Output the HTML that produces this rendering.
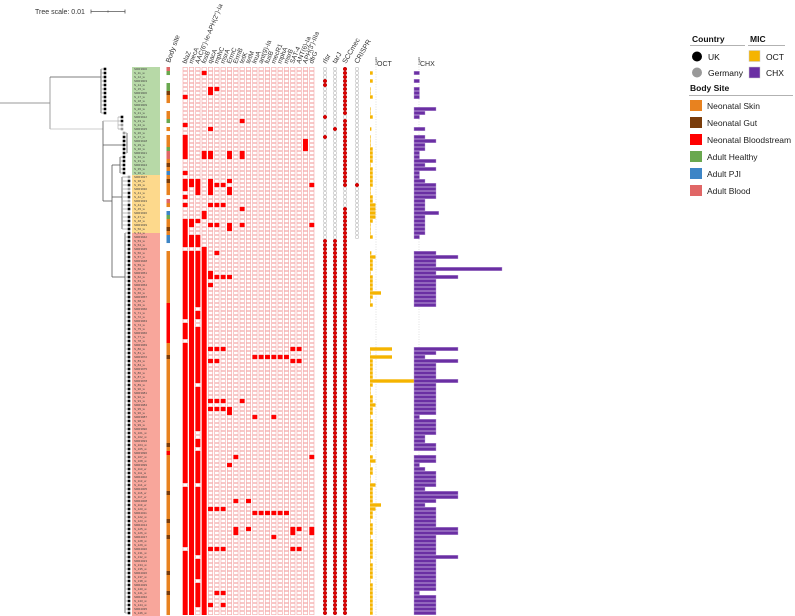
<!DOCTYPE html>
<html><head><meta charset="utf-8"><style>
html,body{margin:0;padding:0;background:#fff;}
svg{display:block;font-family:"Liberation Sans",sans-serif;}
</style></head><body>
<svg id="fig" width="795" height="616" viewBox="0 0 795 616" xmlns="http://www.w3.org/2000/svg">
<g>
<text x="35" y="14" font-size="7" fill="#333">Tree scale: 0.01</text>
<line x1="91" y1="11.5" x2="125" y2="11.5" stroke="#555" stroke-width="0.8"/>
<line x1="91" y1="9.5" x2="91" y2="13.5" stroke="#555" stroke-width="0.8"/>
<line x1="108" y1="10.5" x2="108" y2="12.5" stroke="#555" stroke-width="0.8"/>
<line x1="125" y1="9.5" x2="125" y2="13.5" stroke="#555" stroke-width="0.8"/>
</g>
<g id="tree"></g>
<g id="clades"></g>
<g id="body"></g>
<g id="heat"></g>
<g id="dots"></g>
<g id="bars"></g>
<g>
<text x="692" y="42" font-size="8.5" font-weight="bold" fill="#111">Country</text>
<line x1="690" y1="45.5" x2="745" y2="45.5" stroke="#999" stroke-width="0.8"/>
<text x="750" y="42" font-size="8.5" font-weight="bold" fill="#111">MIC</text>
<line x1="748" y1="45.5" x2="785" y2="45.5" stroke="#999" stroke-width="0.8"/>
<circle cx="697" cy="56.5" r="5" fill="#000"/><text x="708" y="60" font-size="8.5" fill="#111">UK</text>
<circle cx="697" cy="72.5" r="5" fill="#999"/><text x="708" y="76" font-size="8.5" fill="#111">Germany</text>
<rect x="749" y="50.5" width="11" height="11" fill="#f5b400" stroke="#ccc" stroke-width="0.5"/><text x="766" y="60" font-size="8.5" fill="#111">OCT</text>
<rect x="749" y="67" width="11" height="11" fill="#6a2fa3" stroke="#ccc" stroke-width="0.5"/><text x="766" y="76" font-size="8.5" fill="#111">CHX</text>
<text x="690" y="91" font-size="8.5" font-weight="bold" fill="#111">Body Site</text>
<line x1="689" y1="95.5" x2="793" y2="95.5" stroke="#999" stroke-width="0.8"/>
<rect x="690" y="100" width="12" height="11" fill="#e8821f"/><text x="707" y="109" font-size="8.5" fill="#222">Neonatal Skin</text>
<rect x="690" y="117" width="12" height="11" fill="#7a3c0a"/><text x="707" y="126" font-size="8.5" fill="#222">Neonatal Gut</text>
<rect x="690" y="134" width="12" height="11" fill="#ff0000"/><text x="707" y="143" font-size="8.5" fill="#222">Neonatal Bloodstream</text>
<rect x="690" y="151" width="12" height="11" fill="#6aa84f"/><text x="707" y="160" font-size="8.5" fill="#222">Adult Healthy</text>
<rect x="690" y="168" width="12" height="11" fill="#3d85c6"/><text x="707" y="177" font-size="8.5" fill="#222">Adult PJI</text>
<rect x="690" y="185" width="12" height="11" fill="#e06666"/><text x="707" y="194" font-size="8.5" fill="#222">Adult Blood</text>
</g>
</svg>
<script>
const NS="http://www.w3.org/2000/svg";
const geneNames=["blaZ","mecA","AAC(6')-Ie-APH(2'')-Ia","fosB","qacA","mphC","msrA","ErmC","ErmB","tetK","tetM","lnuA","ant(9)-Ia","fusB","mecR1","mphA","msrB","SAT-4","ANT(6)-Ia","APH(3')-IIIa","dfrG"];
const markerNames=["rlsr","tarJ","SCCmec","CRISPR"];
const chxValues=[0,1,0,1,0,1,1,1,0,0, 4,2,1,0,0,2,0,2,4,2, 2,1,1,4,2,4,1,1,2,4, 4,4,4,2,2,2,4.5,2,2,2, 2,2,1,0,0,0,4,8,4,4,
16,4,8,4,4,4,4,4,4,4, 0,0,0,0,0,0,0,0,0,0, 8,4,2,8,4,4,4,4,8,4, 4,4,4,4,4,4,4,1,4,4, 4,4,2,2,4,4,0,4,4,1,
2,4,4,4,4,2,8,8,4,2, 4,4,4,4,4,8,8,4,4,4, 4,4,8,4,4,4,4,4,4,4, 4,1,4,4,4,4,4];
const octValues=[0,.5,0,.5,0,.1,.1,.5,0,0, .1,.1,.5,0,0,.25,0,.1,.1,.1, .5,.5,.5,.5,.1,.5,.5,.5,.5,.5, .1,.1,.5,.5,1,1,1,1,.5,.1, .1,.1,.5,0,0,0,.25,1,.5,.5,
.5,.1,.5,.5,.5,.5,2,.5,.1,.5, 0,0,0,0,0,0,0,0,0,0, 4,.1,4,.5,.5,.5,.5,.5,8,.5, .1,.1,.5,.5,1,.5,.5,.1,.5,.5, .5,.5,.5,.5,.5,.1,0,.5,1,.1,
.5,.5,.1,.1,1,.5,.5,.5,.5,2, 1,.5,.5,.1,.5,.5,.5,.1,.5,.5, .5,.5,.5,.1,.5,.5,.5,.5,.1,.5, .5,.5,.5,.5,.5,.5,.5];
const bodySites=("AH--HHGSS--SSH-S-SSSHAASGSPSGSSS-AS-PHSSGSPP--"+"SSSSSSSSSSSSS"+"BBBBBBBBBB"+"SSSG"+"SSSSSSSSSSSSSSSSSSSSS"+"GSB"+"SSSSSSSSS"+"GSSSSSSGSSSGSSSSSSSSGSSSSGSSSSS").split("");
const siteColors={S:"#e8821f",G:"#7a3c0a",B:"#ff0000",H:"#6aa84f",P:"#3d85c6",A:"#e06666"};
const geneHits=[[1,[3]],[5,[4,5]],[6,[4]],[7,[0]],[13,[9]],[14,[0]],[15,[4]],[17,[0]],[18,[0,19]],[19,[0,19]],[20,[0,19]],[21,[0,3,4,7,9]],[22,[0,3,4,7,9]],[26,[0]],[28,[0,1,2,4,7]],[29,[0,1,2,4,5,6,20]],[30,[0,2,4,7]],[31,[2,4,7]],[32,[0]],[34,[0,4,5,6]],[35,[9]],[36,[3]],[37,[3]],[38,[0,1,2]],[39,[0,1,4,5,7,9,20]],[40,[0,7]],[41,[0]],[42,[0,1,2]],
[46,[5]],[51,[4]],[52,[4,5,6,7]],[54,[4]],[70,[4,5,6,17,18]],[72,[11,12,13,14,15,16]],[73,[4,5,17,18]],[83,[4,5,6,9]],[85,[4,5,6,7]],[86,[7]],[87,[11,14]],[97,[8,20]],[99,[7]],[108,[8,10]],[110,[4,5,6]],[111,[11,12,13,14,15,16]],[115,[8,10,17,18,20]],[116,[8,17,20]],[117,[14]],[120,[4,5,6,17,18]],[131,[5,6]],[134,[4,6]]];
const coreGapsCol0=[45,63,68,104,120];
const coreGapsCol1=[45];
const coreGapsCol2=[45,60,63,64,79,91,92,95,104,122,128,135,136];
const coreGapsCol3=[43,44];
const rlsrRed=[3,4,12,17];
const tarJRed=[15];
const sccHollow=[12,30,31,32,33,34];
const crisprRed=[29];
const germanyRows=[14,15,16,27,30,33,36];
const NROWS=137, COREFIRST=43;

const yc=r=>69+4*r;
const colX=c=>182.7+6.33*c;
const octX=v=>370+5.5*v;
const chxX=v=>414+5.5*v;
function mk(tag,attrs,parent){const e=document.createElementNS(NS,tag);for(const k in attrs)e.setAttribute(k,attrs[k]);parent.appendChild(e);return e;}

const cl=document.getElementById('clades');
let e;
e=mk('rect',{x:132,y:67,width:28,height:108,fill:"#b7d9a7"},cl);


e=mk('rect',{x:132,y:175,width:28,height:58,fill:"#fdd98c"},cl);


e=mk('rect',{x:132,y:233,width:28,height:383,fill:"#f8a69b"},cl);


for(let r=0;r<NROWS;r++){
  const t=mk('text',{x:134,y:yc(r)+1.2,"font-size":3,fill:"#444"},cl);
  t.textContent=(r%3===0?"SRR"+(3900+r):"S_"+(r+10)+"_w");
  
  
}

const tr=document.getElementById('tree');
function L(x1,y1,x2,y2,col){const l=mk('line',{x1,y1,x2,y2,stroke:col||"#555","stroke-width":0.8},tr);}
L(0,yc(8.5),50,yc(8.5),"#777");
L(50,yc(2),50,yc(15),"#888");
L(50,yc(2),101,yc(2));L(101,yc(0),101,yc(11));
L(50,yc(15),103,yc(15),"#bbb");L(103,yc(13),103,yc(33));
L(103,yc(13),118,yc(13),"#bbb");L(118,yc(12),118,yc(15),"#bbb");
L(103,yc(19),127,yc(19));L(127,yc(16),127,yc(21));
L(103,yc(33),112,yc(33));L(112,yc(24),112,yc(52));
L(112,yc(24),120,yc(24));L(120,yc(22),120,yc(26));
L(112,yc(32),122,yc(32));L(122,yc(27),122,yc(40));
L(112,yc(52),125,yc(52));L(125,yc(41),125,yc(136));
function parentX(r){if(r<=11)return 101;if(r<=15)return 118;if(r<=21)return 127;if(r<=26)return 120;if(r<=40)return 122;return 125;}
for(let r=0;r<NROWS;r++){
  const px=parentX(r), tip=(r<=11?105:r<=15?122:r<=26?124:129);
  L(px,yc(r),tip,yc(r),"#aaa");
  const d=mk('rect',{x:tip-1.3,y:yc(r)-1.3,width:2.6,height:2.6,fill:germanyRows.includes(r)?"#999":"#000"},tr);
  
  
}

const bd=document.getElementById('body');
const bh=mk('text',{x:0,y:0,"font-size":7,fill:"#333",transform:"translate(170,63) rotate(-70)"},bd);
bh.textContent="Body site";


bodySites.forEach((s,r)=>{if(!siteColors[s])return;
  const rc=mk('rect',{x:166.5,y:yc(r)-2,width:3.5,height:4.05,fill:siteColors[s]},bd);
  
  });

const hm=document.getElementById('heat');
const grid=[];for(let r=0;r<NROWS;r++)grid.push(new Array(21).fill(0));
for(let r=COREFIRST;r<NROWS;r++){
  if(!coreGapsCol0.includes(r))grid[r][0]=1;
  if(!coreGapsCol1.includes(r))grid[r][1]=1;
  if(!coreGapsCol2.includes(r))grid[r][2]=1;
  if(!coreGapsCol3.includes(r))grid[r][3]=1;
}
geneHits.forEach(([r,cs])=>cs.forEach(c=>grid[r][c]=1));
geneNames.forEach((n,c)=>{
  const t=mk('text',{x:0,y:0,"font-size":6.5,fill:"#333",transform:`translate(${colX(c)+3.5},64) rotate(-68)`},hm);
  t.textContent=n;
  
  
});
for(let r=0;r<NROWS;r++)for(let c=0;c<21;c++){
  const on=grid[r][c];
  const rc=on?mk('rect',{x:colX(c),y:yc(r)-2,width:5,height:4,fill:"#ff0000"},hm)
            :mk('rect',{x:colX(c)+0.3,y:yc(r)-1.6,width:4.4,height:3.2,fill:"#fff",stroke:"#f4a3a3","stroke-width":0.6},hm);
  
  
}

const dt=document.getElementById('dots');
const mX=[325,335,345,357];
markerNames.forEach((n,i)=>{
  const t=mk('text',{x:0,y:0,"font-size":7,fill:"#333",transform:`translate(${mX[i]+1},64) rotate(-60)`},dt);
  t.textContent=n;
  
  
});
for(let r=0;r<NROWS;r++){
  const core=r>=COREFIRST;
  const st=[core||rlsrRed.includes(r), core||tarJRed.includes(r), !sccHollow.includes(r), crisprRed.includes(r)];
  for(let i=0;i<4;i++){
    if(i===3&&core)continue;
    const c=mk('circle',{cx:mX[i],cy:yc(r),r:1.8,fill:st[i]?"#e00000":"#fff",stroke:st[i]?"#a00":"#aaa","stroke-width":0.5},dt);
    
    
  }
}

const bs=document.getElementById('bars');
[[376,"OCT"],[419,"CHX"]].forEach(([x,lab])=>{
  const l=mk('line',{x1:x,y1:64,x2:x,y2:616,stroke:"#ccc","stroke-width":0.6,"stroke-dasharray":"1,1.5"},bs);
  
  
  const t=mk('text',{x:x+1,y:66,"font-size":7,fill:"#333"},bs);t.textContent=lab;
  
  
  const s=mk('text',{x:0,y:0,"font-size":2.5,fill:"#333",transform:`translate(${x+0.8},65) rotate(-90)`},bs);s.textContent="4 ug/ml";
  
  
});
octValues.forEach((v,r)=>{if(!v)return;
  const b=mk('rect',{x:370,y:yc(r)-1.7,width:Math.max(0.6,octX(v)-370),height:3.4,fill:"#f5b400"},bs);
  
  });
chxValues.forEach((v,r)=>{if(!v)return;
  const b=mk('rect',{x:414,y:yc(r)-1.7,width:chxX(v)-414,height:3.4,fill:"#6a2fa3",stroke:"#b99ad6","stroke-width":0.4},bs);
  
  });
</script>
</body></html>
